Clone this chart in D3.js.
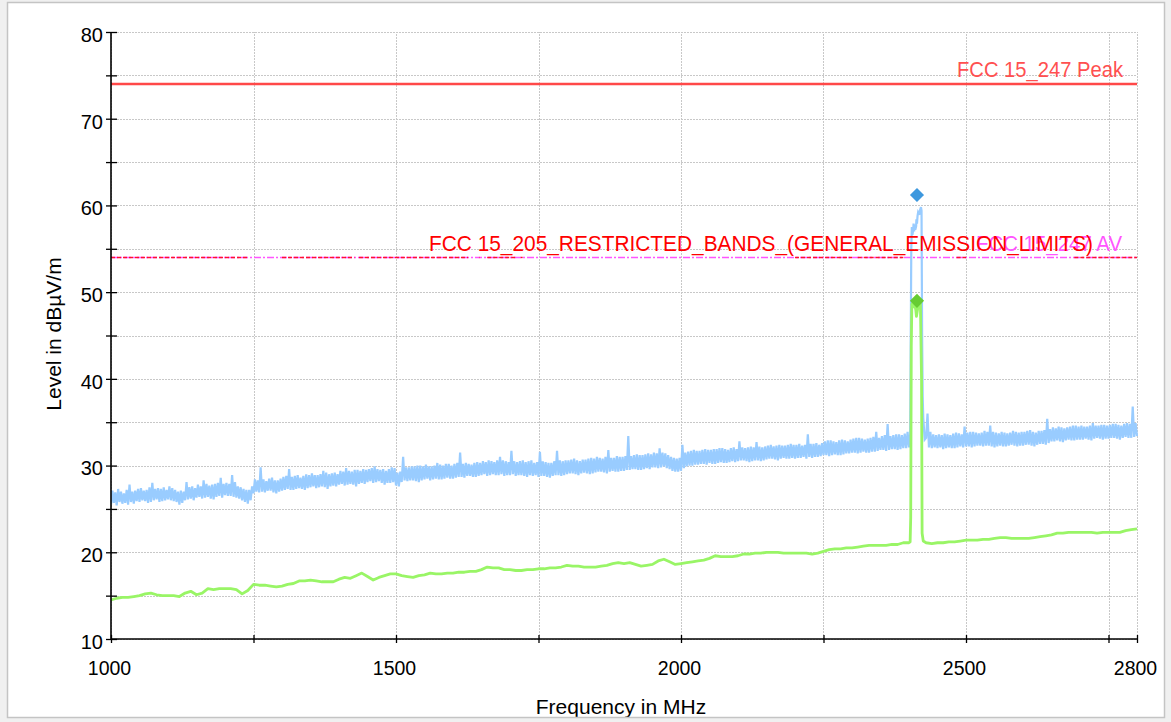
<!DOCTYPE html>
<html><head><meta charset="utf-8">
<script src="https://cdn.jsdelivr.net/npm/d3@7"></script>
<style>
body{margin:0;background:#fff}
svg{display:block}
text{font-family:"Liberation Sans",Arial,Helvetica,sans-serif}
</style>
</head><body>
<svg id="c" width="1171" height="722"></svg>
<script>
// ---------- data ----------
const xDomain = [1000, 2800];
const yDomain = [10, 80];
const xTickValues = [1000, 1250, 1500, 1750, 2000, 2250, 2500, 2750, 2800];
const xTickLabels = [1000, 1500, 2000, 2500, 2800];
const yTickValues = [10, 15, 20, 25, 30, 35, 40, 45, 50, 55, 60, 65, 70, 75, 80];
const yTickLabels = [10, 20, 30, 40, 50, 60, 70, 80];
const xTitle = "Frequency in MHz";
const yTitle = "Level in dBµV/m";

// Peak detector trace (blue), sweep points every 2.5 MHz from 1000 MHz (one row = 50 MHz)
const blueStart = 1000, blueStep = 2.5;
const bluePeak = [
25.5,27.1,25.7,26.9,25.4,27.3,25.8,27.0,25.6,26.8,25.7,27.2,25.5,27.8,25.8,27.0,25.6,27.1,25.9,27.3,
25.8,27.4,26.0,27.1,25.9,27.2,25.7,27.5,25.8,28.0,26.0,27.3,26.1,27.4,25.8,27.3,25.9,27.5,26.0,27.2,
26.1,27.6,26.0,27.4,25.9,27.2,25.8,27.0,25.5,27.1,25.7,27.0,26.0,28.1,26.1,27.5,26.2,27.6,26.0,27.4,
26.3,27.8,26.4,27.6,26.2,28.3,26.3,27.9,26.4,27.7,26.2,27.8,26.1,27.9,26.4,28.0,26.5,28.6,26.3,27.9,
26.6,28.0,26.5,27.9,26.5,28.9,26.4,28.1,26.3,27.6,26.2,27.5,26.0,27.3,25.8,27.2,25.6,27.2,26.0,27.6,
26.8,28.4,27.0,28.3,26.9,29.8,27.0,28.4,26.9,28.2,27.1,28.5,27.1,28.6,26.9,28.3,26.8,28.3,27.0,28.5,
27.1,28.7,27.2,28.8,27.3,29.6,27.2,28.7,27.2,28.8,27.3,28.9,27.4,28.6,27.3,28.8,27.2,29.0,27.4,28.9,
27.5,29.1,27.6,28.9,27.4,28.9,27.5,29.0,27.6,29.4,27.5,29.2,27.3,29.0,27.6,29.1,27.7,29.2,27.6,29.0,
27.8,29.4,27.9,29.3,27.7,29.7,27.8,29.4,27.9,29.3,27.8,29.5,27.6,29.5,27.9,29.4,28.0,29.6,27.9,29.5,
28.1,29.6,28.2,29.7,28.0,29.9,28.1,29.6,28.2,29.5,28.0,29.6,27.8,29.4,28.0,29.6,28.0,29.8,28.1,29.7,
27.7,29.2,27.6,29.3,28.1,31.0,28.3,29.8,28.2,29.8,28.3,29.9,28.3,29.9,28.2,30.0,28.1,30.0,28.3,29.9,
28.4,30.1,28.5,29.9,28.3,29.9,28.4,30.0,28.5,30.3,28.4,30.1,28.4,30.0,28.5,30.2,28.6,30.2,28.5,30.0,
28.5,30.2,28.6,30.3,28.7,31.5,28.7,30.2,28.6,30.3,28.8,30.2,28.8,30.1,28.7,30.3,28.7,30.4,28.8,30.3,
28.9,30.5,29.0,30.4,28.8,30.6,28.9,30.5,29.0,30.4,28.9,30.6,28.9,31.0,29.0,30.6,28.8,30.5,28.9,30.4,
28.9,31.7,29.0,30.5,28.8,30.4,28.9,30.5,28.9,30.6,28.8,30.4,28.7,30.5,28.9,30.6,28.8,30.3,28.9,30.4,
28.7,31.6,28.8,30.5,28.8,30.4,28.7,30.3,28.6,30.3,28.8,30.5,28.9,31.7,28.9,30.6,28.8,30.5,28.9,30.6,
29.0,30.6,29.1,30.7,29.1,30.8,29.0,30.6,28.9,30.5,29.1,30.7,29.2,30.7,29.1,30.8,29.0,30.9,29.1,30.8,
29.2,31.0,29.3,30.9,29.3,30.8,29.2,31.0,29.1,31.8,29.3,30.9,29.4,30.9,29.3,31.1,29.3,31.0,29.4,31.0,
29.4,31.1,29.5,33.4,29.5,31.1,29.6,31.2,29.6,31.3,29.5,31.2,29.5,31.2,29.6,31.3,29.7,31.4,29.6,31.3,
29.8,31.5,29.8,31.4,29.7,32.0,29.8,31.5,29.9,31.4,29.7,31.2,29.6,31.0,29.4,30.9,29.3,30.8,29.3,30.9,
29.4,32.4,29.7,31.5,29.9,31.6,30.0,31.7,30.0,31.8,30.1,31.7,30.1,31.7,30.2,31.8,30.2,31.9,30.1,31.8,
30.3,31.8,30.2,31.9,30.2,31.9,30.3,32.0,30.4,32.0,30.3,31.9,30.3,31.8,30.4,32.0,30.5,32.1,30.4,31.9,
30.5,32.8,30.6,32.1,30.6,32.0,30.5,32.1,30.4,32.2,30.5,32.1,30.6,32.7,30.6,32.2,30.5,32.1,30.6,32.2,
30.7,32.3,30.8,32.4,30.8,32.2,30.7,32.3,30.6,32.4,30.8,32.3,30.9,32.3,30.8,32.4,30.8,32.5,30.9,32.4,
30.8,32.4,30.9,32.5,30.9,32.3,31.0,32.4,30.8,33.6,31.0,32.5,30.9,32.5,31.0,32.6,31.0,32.4,31.1,32.6,
31.2,32.8,31.2,32.9,31.1,32.9,31.2,32.8,31.3,32.7,31.2,32.9,31.2,33.0,31.3,32.9,31.4,32.8,31.4,33.0,
31.5,33.1,31.5,33.2,31.4,33.2,31.5,33.1,31.6,33.0,31.5,33.1,31.5,33.2,31.6,33.3,31.6,33.9,31.7,33.2,
31.8,33.4,31.8,33.5,31.7,34.8,31.8,33.4,31.9,33.5,31.9,33.6,31.8,33.6,31.9,33.5,32.0,33.7,32.0,33.9,
32.1,38.0,57.5,57.2,57.8,57.6,58.8,59.0,59.6,52.0,35.5,33.0,33.2,36.0,32.1,33.9,32.0,33.6,32.1,33.5,
32.0,33.6,32.1,33.5,31.9,33.7,32.0,33.6,32.1,33.5,32.0,33.7,32.0,33.8,32.1,33.7,32.2,33.6,32.1,34.5,
32.2,33.8,32.2,33.9,32.1,33.9,32.2,33.8,32.3,33.7,32.3,33.8,32.2,34.0,32.3,33.9,32.3,34.6,32.2,33.9,
32.1,33.8,32.2,33.7,32.3,33.9,32.2,33.8,32.2,33.7,32.3,33.8,32.4,34.0,32.3,33.9,32.2,33.8,32.3,33.9,
32.3,33.9,32.4,34.0,32.4,34.1,32.3,33.9,32.2,33.8,32.4,34.0,32.5,34.0,32.5,34.1,32.4,35.4,32.6,34.2,
32.8,34.4,32.8,34.3,32.9,34.5,32.8,34.4,32.7,34.3,32.9,34.4,33.0,34.5,32.9,34.6,32.9,34.6,33.0,34.5,
33.0,34.6,33.0,34.5,33.1,34.5,33.0,34.6,32.9,34.9,33.1,34.6,33.2,34.6,33.1,34.7,33.0,34.7,33.1,34.6,
33.1,34.7,33.2,34.8,33.2,34.8,33.1,34.7,33.0,34.6,33.2,34.8,33.3,34.9,33.2,34.8,33.2,36.8,33.3,34.9,
33.4
];
// extra fine points around the 2.4 GHz carrier (MHz, dBµV/m)
const bluePeakCarrier = [
[2401,33.5],[2402,32.4],[2403,44.0],[2404,55.0],[2406,56.6],[2408,57.9],[2409,57.0],
[2411,57.2],[2413,58.4],[2414,57.9],[2416,59.2],[2418,58.9],[2419,59.4],[2421,59.8],
[2422,59.4],[2423,45.0],[2424,38.0]
];

// Average detector trace (green), sweep points every 10 MHz from 1000 MHz
const greenStart = 1000, greenStep = 10;
const greenAvg = [
14.5,14.7,14.8,14.8,14.9,15.0,15.2,15.3,15.1,15.0,
15.0,15.0,14.9,15.3,15.5,15.1,15.3,15.8,15.7,15.8,
15.8,15.8,15.7,15.2,15.6,16.3,16.2,16.2,16.1,16.0,
16.1,16.3,16.4,16.7,16.7,16.8,16.7,16.6,16.6,16.6,
16.9,17.1,17.0,17.3,17.6,17.2,16.8,17.1,17.3,17.5,
17.5,17.3,17.2,17.1,17.3,17.4,17.6,17.5,17.5,17.6,
17.6,17.7,17.7,17.8,17.8,18.0,18.3,18.2,18.2,18.0,
18.0,17.9,17.9,18.0,18.0,18.1,18.1,18.2,18.2,18.3,
18.5,18.4,18.4,18.3,18.3,18.3,18.4,18.5,18.7,18.8,
18.7,18.8,18.6,18.4,18.5,18.6,19.0,19.2,18.9,18.6,
18.7,18.8,18.9,19.0,19.1,19.3,19.6,19.5,19.5,19.5,
19.6,19.8,19.8,19.9,19.9,20.0,20.0,20.0,19.9,19.9,
19.9,19.9,19.9,19.8,19.9,20.1,20.3,20.4,20.4,20.5,
20.5,20.6,20.7,20.8,20.8,20.8,20.8,20.9,20.9,21.1,
21.1,48.6,48.7,21.1,21.0,21.1,21.1,21.2,21.2,21.3,
21.4,21.4,21.4,21.5,21.5,21.6,21.7,21.7,21.6,21.6,
21.6,21.6,21.7,21.8,21.9,22.0,22.2,22.2,22.3,22.3,
22.3,22.3,22.3,22.2,22.3,22.3,22.3,22.3,22.5,22.6,
22.7
];
const greenAvgCarrier = [
[2402,21.2],[2403,24.0],[2404,43.7],[2405,48.6],[2407,48.8],[2408,48.3],
[2412,47.9],[2413,47.2],[2415,48.0],[2417,48.7],[2419,48.5],[2422,40.0],
[2423,22.2],[2425,21.3]
];

// limit lines
const limitPeakLevel = 74;        // FCC 15_247 Peak
const limitAvLevel = 54;          // FCC 15_247 AV
const limitRestrictedLevel = 54;  // FCC 15_205 restricted bands
const restrictedBands = [[1000,1240],[1300,1427],[1435,1626.5],[1645.5,1646.5],[1660,1710],[1718.8,1722.2],[2200,2300],[2310,2390],[2483.5,2500],[2690,2800]];
const limitLabels = ["FCC 15_247 Peak", "FCC 15_247 AV", "FCC 15_205_RESTRICTED_BANDS_(GENERAL_EMISSION_LIMITS)"];

// final measurement markers
const markerFreqs = [2414, 2414];
const markerLevels = [61.2, 49.0];
const markerColors = ["#3d98de", "#66cc33"];

// ---------- drawing ----------
const W = 1171, H = 722;
const svg = d3.select("#c");
const x = d3.scaleLinear().domain(xDomain).range([111, 1137]);
const y = d3.scaleLinear().domain(yDomain).range([639, 32]);

svg.append("rect").attr("width", W).attr("height", H).attr("fill", "#f0f0f0");
const defs = svg.append("defs");
defs.append("clipPath").attr("id", "frame").append("rect")
  .attr("x", 7).attr("y", 2).attr("width", 1158).attr("height", 716);
defs.append("clipPath").attr("id", "plot").append("rect")
  .attr("x", 111).attr("y", 20).attr("width", 1027).attr("height", 620);

svg.append("rect").attr("x", 7).attr("y", 2).attr("width", 1158).attr("height", 716)
  .attr("fill", "#fff");

const root = svg.append("g").attr("clip-path", "url(#frame)");

// grid
const grid = root.append("g").attr("stroke", "#c8c8c8").attr("stroke-width", 1)
  .attr("stroke-dasharray", "2,1").attr("shape-rendering", "crispEdges");
grid.selectAll(".gy").data(yTickValues).join("line")
  .attr("x1", x(xDomain[0])).attr("x2", x(xDomain[1]))
  .attr("y1", d => Math.round(y(d)) + 0.5).attr("y2", d => Math.round(y(d)) + 0.5);
grid.selectAll(".gx").data(xTickValues).join("line")
  .attr("y1", y(yDomain[0])).attr("y2", y(yDomain[1]))
  .attr("x1", d => Math.round(x(d)) + 0.5).attr("x2", d => Math.round(x(d)) + 0.5);

const plot = root.append("g").attr("clip-path", "url(#plot)");

// limit lines
plot.append("line")
  .attr("x1", x(xDomain[0])).attr("x2", x(xDomain[1]))
  .attr("y1", y(limitPeakLevel)).attr("y2", y(limitPeakLevel))
  .attr("stroke", "#ff4848").attr("stroke-width", 2.6);
plot.append("line")
  .attr("x1", x(xDomain[0])).attr("x2", x(xDomain[1]))
  .attr("y1", y(limitAvLevel)).attr("y2", y(limitAvLevel))
  .attr("stroke", "#ff55ff").attr("stroke-width", 1.4)
  .attr("stroke-dasharray", "7,2,2,2");
plot.selectAll(".rb").data(restrictedBands).join("line")
  .attr("x1", d => x(d[0])).attr("x2", d => x(d[1]))
  .attr("y1", y(limitRestrictedLevel)).attr("y2", y(limitRestrictedLevel))
  .attr("stroke", "#ff1030").attr("stroke-width", 1.4)
  .attr("stroke-dasharray", "4,2");

// traces
const bluePts = bluePeak.map((v, i) => [blueStart + i * blueStep, v])
  .concat(bluePeakCarrier).sort((a, b) => a[0] - b[0]);
const greenPts = greenAvg.map((v, i) => [greenStart + i * greenStep, v])
  .concat(greenAvgCarrier).sort((a, b) => a[0] - b[0]);
const line = d3.line().x(d => x(d[0])).y(d => y(d[1]));

plot.append("path").attr("d", line(bluePts))
  .attr("fill", "none").attr("stroke", "#99ccff").attr("stroke-width", 2.2);
plot.append("path").attr("d", line(greenPts))
  .attr("fill", "none").attr("stroke", "#99f566").attr("stroke-width", 2.8)
  .attr("stroke-linejoin", "round");

// limit labels
const lbl = root.append("g").style("font-size", "21.5px");
lbl.append("text").attr("x", 1123).attr("y", 77).attr("text-anchor", "end")
  .attr("textLength", 166).attr("lengthAdjust", "spacingAndGlyphs")
  .attr("fill", "#ff5050").text(limitLabels[0]);
lbl.append("text").attr("x", 1122).attr("y", 251).attr("text-anchor", "end")
  .attr("textLength", 146).attr("lengthAdjust", "spacingAndGlyphs")
  .attr("fill", "#ff55ff").text(limitLabels[1]);
lbl.append("text").attr("x", 1093).attr("y", 251).attr("text-anchor", "end")
  .attr("textLength", 664).attr("lengthAdjust", "spacingAndGlyphs")
  .attr("fill", "#ff0000").text(limitLabels[2]);

// markers
root.selectAll(".mk").data(markerFreqs).join("path")
  .attr("d", d3.symbol(d3.symbolSquare, 100)())
  .attr("transform", (d, i) => `translate(${x(d)},${y(markerLevels[i])}) rotate(45)`)
  .attr("fill", (d, i) => markerColors[i]);

// axes
const yAxis = d3.axisLeft(y).tickValues(yTickValues)
  .tickFormat(d => yTickLabels.includes(d) ? d : "").tickSize(5).tickPadding(8);
const gy = root.append("g").attr("transform", `translate(${x(xDomain[0])},0)`).call(yAxis);
gy.select(".domain").attr("stroke", "#000").attr("stroke-width", 1.6).attr("d", `M0,${y(yDomain[0])}V${y(yDomain[1])}`);
gy.selectAll(".tick line").attr("x1", 6).attr("x2", -5).attr("stroke-width", 1.3);
gy.selectAll(".tick text").style("font-size", "20px").attr("fill", "#000")
  .attr("x", -8).attr("dy", "0.62em").attr("y", -3);

const xAxis = d3.axisBottom(x).tickValues(xTickValues)
  .tickFormat(d => xTickLabels.includes(d) ? d : "").tickSize(4);
const gx = root.append("g").attr("transform", `translate(0,${y(yDomain[0])})`).call(xAxis);
gx.select(".domain").attr("stroke", "#000").attr("stroke-width", 1.6).attr("d", `M${x(xDomain[0])},0H${x(xDomain[1])}`);
gx.selectAll(".tick line").attr("y1", -4).attr("y2", 4).attr("stroke-width", 1.3);
gx.selectAll(".tick text").style("font-size", "19.5px").attr("fill", "#000")
  .attr("dy", 0).attr("y", 36).attr("x", -2);

// axis titles
root.append("text").attr("x", 621).attr("y", 714).attr("text-anchor", "middle")
  .style("font-size", "21px").attr("fill", "#000").text(xTitle);
root.append("text").attr("transform", "translate(61,334) rotate(-90)")
  .attr("text-anchor", "middle").style("font-size", "21px").attr("fill", "#000").text(yTitle);

// frame border
svg.append("rect").attr("x", 7.5).attr("y", 2.5).attr("width", 1157).attr("height", 715)
  .attr("fill", "none").attr("stroke", "#c4c4c4").attr("stroke-width", 1.5);
</script>
</body></html>
